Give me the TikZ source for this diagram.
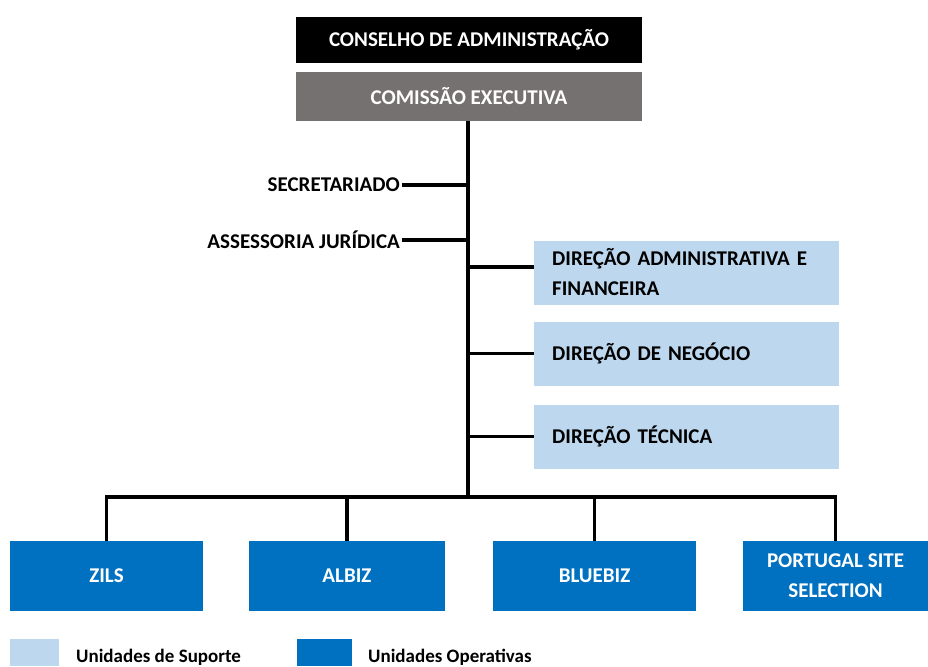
\documentclass[tikz,border=0pt]{standalone}
\usepackage{fontspec}
\setmainfont{Carlito}
\usetikzlibrary{positioning}
\definecolor{execgray}{HTML}{767171}
\definecolor{supblue}{HTML}{BDD7EE}
\definecolor{opblue}{HTML}{0070C0}
\tikzset{
    unit/.style={font=\bfseries\fontsize{21}{30}\selectfont, inner sep=0pt},
    topbox/.style={unit, fill=black, text=white, minimum width=346, minimum height=46},
    execbox/.style={unit, fill=execgray, text=white, minimum width=346, minimum height=49},
    staff/.style={unit, anchor=east},
    supunit/.style={unit, fill=supblue, anchor=west, inner xsep=18pt, text width=269pt, align=left, minimum height=64},
    opunit/.style={unit, fill=opblue, text=white, align=center, minimum height=70},
    legsq/.style={minimum width=49, minimum height=27, inner sep=0pt, anchor=north west},
    legtext/.style={font=\bfseries\fontsize{19}{22}\selectfont, inner sep=0pt, anchor=west},
    link/.style={line width=3.2pt}
}
\begin{document}
\begin{tikzpicture}[x=1pt,y=-1pt]
\useasboundingbox (0,0) rectangle (928,666);
% top of the chart
\node[topbox] (conselho) at (469,40) {CONSELHO DE ADMINISTRAÇÃO};
\node[execbox] (comissao) at (469,96.5) {COMISSÃO EXECUTIVA};
\coordinate (bar) at (468,497);
\draw[link] (comissao.south -| bar) -- (bar);
% staff
\node[staff] (secr) at (400,185) {SECRETARIADO};
\node[staff] (assess) at (400,240) {ASSESSORIA JURÍDICA};
\foreach \s in {secr,assess}
    \draw[link] ([xshift=2pt]\s.east) -- (\s.east -| bar);
% support units
\node[supunit] (dafin) at (534,272.5) {DIREÇÃO ADMINISTRATIVA E\\FINANCEIRA};
\node[supunit] (negocio) at (534,353.5) {DIREÇÃO DE NEGÓCIO};
\node[supunit] (tecnica) at (534,436.5) {DIREÇÃO TÉCNICA};
\coordinate (dafinlink) at (534,267);
\draw[link] (dafinlink -| bar) -- (dafinlink);
\foreach \s in {negocio,tecnica}
    \draw[link] (\s.west -| bar) -- (\s.west);
% operative units
\node[opunit, minimum width=193] (zils) at (106.5,576) {ZILS};
\node[opunit, minimum width=196] (albiz) at (347,576) {ALBIZ};
\node[opunit, minimum width=203] (bluebiz) at (594.5,576) {BLUEBIZ};
\node[opunit, minimum width=185] (pss) at (835.5,576) {PORTUGAL SITE\\SELECTION};
\draw[link] (zils.north) -- (zils.north |- bar) -- (pss.north |- bar) -- (pss.north);
\foreach \s in {albiz,bluebiz}
    \draw[link] (\s.north |- bar) -- (\s.north);
% legend
\node[legsq, fill=supblue] (legsup) at (10,639) {};
\node[legtext] (legsuptext) at (76,657) {Unidades de Suporte};
\node[legsq, fill=opblue, minimum width=55] (legop) at (297,639) {};
\node[legtext] (legoptext) at (368,657) {Unidades Operativas};
\end{tikzpicture}
\end{document}
